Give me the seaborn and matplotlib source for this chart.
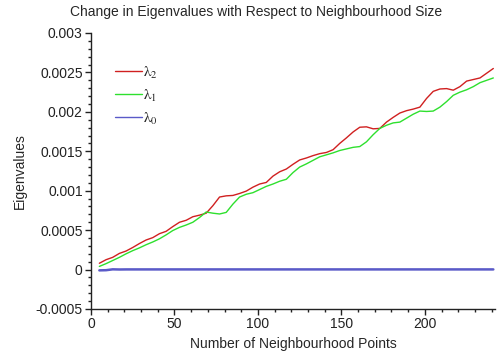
import numpy as np
import pandas as pd
import matplotlib as mpl
mpl.use('Agg')
import matplotlib.pyplot as plt
from matplotlib.ticker import MultipleLocator
import seaborn as sns

sns.set_style("ticks")
plt.rcParams['font.family'] = ['Liberation Sans', 'DejaVu Sans']
plt.rcParams['mathtext.fontset'] = 'stix'

# number of neighbourhood points
points = list(range(5, 242, 4))

# eigenvalues, in units of 1e-4
lam2 = [0.80, 1.25, 1.55, 2.05, 2.35, 2.80, 3.30, 3.75, 4.05, 4.55,
        4.85, 5.45, 6.00, 6.25, 6.70, 6.90, 7.15, 8.10, 9.20, 9.35,
        9.40, 9.65, 9.95, 10.45, 10.85, 11.05, 11.85, 12.40, 12.75, 13.35,
        13.90, 14.15, 14.45, 14.70, 14.85, 15.20, 16.00, 16.70, 17.45, 18.05,
        18.10, 17.85, 17.90, 18.70, 19.30, 19.85, 20.15, 20.35, 20.60, 21.70,
        22.60, 22.90, 22.95, 22.75, 23.20, 23.90, 24.10, 24.30, 24.90, 25.50]
lam1 = [0.40, 0.75, 1.15, 1.55, 2.00, 2.40, 2.75, 3.15, 3.50, 3.90,
        4.40, 4.95, 5.35, 5.65, 6.00, 6.60, 7.30, 7.15, 7.05, 7.25,
        8.30, 9.20, 9.55, 9.75, 10.15, 10.55, 10.85, 11.20, 11.45, 12.30,
        13.00, 13.40, 13.85, 14.30, 14.55, 14.80, 15.10, 15.30, 15.50, 15.60,
        16.20, 17.10, 17.90, 18.30, 18.60, 18.70, 19.20, 19.70, 20.10, 20.05,
        20.10, 20.60, 21.30, 22.10, 22.50, 22.80, 23.20, 23.70, 24.00, 24.30]
lam0 = [-0.10, -0.08, 0.03, 0.01, 0.02, 0.02, 0.02, 0.02, 0.02, 0.02,
        0.02, 0.02, 0.02, 0.02, 0.02, 0.02, 0.02, 0.02, 0.02, 0.02,
        0.02, 0.02, 0.02, 0.02, 0.02, 0.02, 0.02, 0.02, 0.02, 0.02,
        0.02, 0.02, 0.02, 0.02, 0.02, 0.02, 0.02, 0.02, 0.02, 0.02,
        0.02, 0.02, 0.02, 0.02, 0.02, 0.02, 0.02, 0.02, 0.02, 0.02,
        0.02, 0.02, 0.02, 0.02, 0.02, 0.02, 0.02, 0.02, 0.02, 0.02]

labels = [r'$\mathrm{\lambda}_2$', r'$\mathrm{\lambda}_1$', r'$\mathrm{\lambda}_0$']
colours = {labels[0]: '#d02020', labels[1]: '#2ee02e', labels[2]: '#5a5ac8'}
widths = {labels[0]: 1.0, labels[1]: 1.0, labels[2]: 1.8}

df = pd.DataFrame({'points': points, labels[0]: lam2, labels[1]: lam1, labels[2]: lam0})
df = df.melt(id_vars='points', var_name='series', value_name='value')
df['value'] = df['value'] * 1e-4

fig = plt.figure(figsize=(4.97, 3.58), dpi=100)
ax = fig.add_axes([91 / 497, 1 - 309 / 358, (495 - 91) / 497, (309 - 33) / 358])

for name in labels:
    sub = df[df['series'] == name]
    sns.lineplot(data=sub, x='points', y='value', color=colours[name],
                 linewidth=widths[name], label=name, ax=ax)

ax.set_xlim(0, 242)
ax.set_ylim(-0.0005, 0.003)
ax.xaxis.set_major_locator(MultipleLocator(50))
ax.xaxis.set_minor_locator(MultipleLocator(10))
ax.yaxis.set_major_locator(MultipleLocator(0.0005))
ax.yaxis.set_minor_locator(MultipleLocator(0.0001))
ax.yaxis.set_major_formatter(mpl.ticker.FuncFormatter(lambda v, p: ('%.4f' % v).rstrip('0').rstrip('.')))

for s in ['top', 'right']:
    ax.spines[s].set_visible(False)
for s in ['left', 'bottom']:
    ax.spines[s].set_color('#222222')
    ax.spines[s].set_linewidth(1.0)
ax.tick_params(which='major', length=4, width=1, labelsize=10, colors='#222222', pad=2)
ax.tick_params(which='minor', length=2.5, width=1, colors='#222222')

ax.set_xlabel('Number of Neighbourhood Points', fontsize=10, labelpad=4)
ax.set_ylabel('Eigenvalues', fontsize=10, labelpad=6)
fig.text(256 / 497, 1 - 12 / 358, 'Change in Eigenvalues with Respect to Neighbourhood Size',
         ha='center', va='center', fontsize=10)

leg = ax.legend(loc='upper left', bbox_to_anchor=(0.025, 0.935), frameon=False,
                handlelength=1.75, handletextpad=0.1, labelspacing=0.45, fontsize=11)
for line in leg.get_lines():
    line.set_linewidth(1.0)

fig.savefig('out.png', dpi=100)
